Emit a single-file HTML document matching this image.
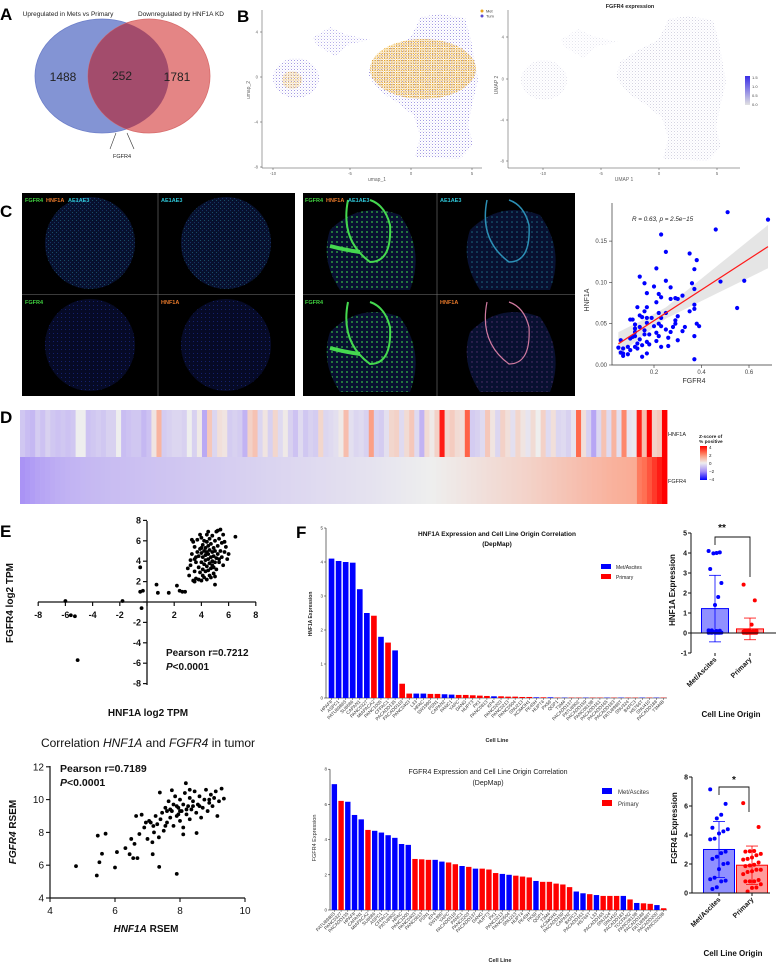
<!DOCTYPE html>
<html><head><meta charset="utf-8">
<style>
html,body{margin:0;padding:0;background:#fff;}
svg{display:block;font-family:"Liberation Sans",sans-serif;}
</style></head>
<body>
<svg id="fig" width="778" height="964" viewBox="0 0 778 964" xmlns="http://www.w3.org/2000/svg">
<defs>
 <pattern id="pPur" width="3" height="3" patternUnits="userSpaceOnUse"><rect x="0" y="0" width="1" height="1" fill="#6656d0" opacity="0.6"/><rect x="1.6" y="1.7" width="0.9" height="0.9" fill="#8a7de0" opacity="0.4"/></pattern>
 <pattern id="pOr" width="2.4" height="2.4" patternUnits="userSpaceOnUse"><rect x="0" y="0" width="1.3" height="1.3" fill="#e9a41c"/><rect x="1.4" y="1.3" width="0.8" height="0.8" fill="#f0b845" opacity="0.7"/></pattern>
 <pattern id="pGr" width="3" height="3" patternUnits="userSpaceOnUse"><rect x="0" y="0" width="1" height="1" fill="#b8b6cf" opacity="0.6"/><rect x="1.6" y="1.6" width="0.9" height="0.9" fill="#9d97d6" opacity="0.3"/></pattern>
 <pattern id="pTeal" width="4" height="4" patternUnits="userSpaceOnUse"><rect width="4" height="4" fill="#07102e"/><rect x="0" y="0" width="1" height="1" fill="#2a8a9a" opacity="0.5"/><rect x="2" y="2.2" width="0.9" height="0.9" fill="#2b5fa8" opacity="0.6"/></pattern>
 <pattern id="pDark" width="4" height="4" patternUnits="userSpaceOnUse"><rect width="4" height="4" fill="#060a26"/><rect x="1" y="1" width="1" height="1" fill="#1a2a8a" opacity="0.7"/></pattern>
 <pattern id="pGreen" width="5" height="5" patternUnits="userSpaceOnUse"><rect width="5" height="5" fill="#081030"/><circle cx="2" cy="2" r="1" fill="#3ccf4a" opacity="0.7"/></pattern>
 <pattern id="pCyan" width="5" height="5" patternUnits="userSpaceOnUse"><rect width="5" height="5" fill="#081030"/><circle cx="2" cy="2" r="0.8" fill="#2aa5b8" opacity="0.6"/></pattern>
 <pattern id="pPink" width="5" height="5" patternUnits="userSpaceOnUse"><rect width="5" height="5" fill="#081030"/><circle cx="2" cy="2" r="0.7" fill="#8a4a9a" opacity="0.6"/></pattern>
 <clipPath id="clipBlue"><ellipse cx="102" cy="76" rx="67" ry="57"/></clipPath>
 <linearGradient id="zgrad" x1="0" y1="1" x2="0" y2="0">
  <stop offset="0" stop-color="#0000ff"/><stop offset="0.25" stop-color="#a48cf6"/><stop offset="0.5" stop-color="#eeeeee"/><stop offset="0.69" stop-color="#fba58c"/><stop offset="0.81" stop-color="#ff6a4d"/><stop offset="1" stop-color="#ff0000"/>
 </linearGradient>
 <linearGradient id="fgrad" x1="0" y1="1" x2="0" y2="0"><stop offset="0" stop-color="#e2e2e2"/><stop offset="1" stop-color="#3a2ee6"/></linearGradient>
</defs>

<!-- Panel A -->
<g>
 <text x="0" y="20" font-size="17" font-weight="bold">A</text>
 <text x="68" y="16" font-size="6.5" text-anchor="middle" fill="#222">Upregulated in Mets vs Primary</text>
 <text x="181" y="16" font-size="6.5" text-anchor="middle" fill="#222">Downregulated by HNF1A KD</text>
 <ellipse cx="102" cy="76" rx="67" ry="57" fill="#8394d4" stroke="#6d7fc9" stroke-width="0.8"/>
 <ellipse cx="149" cy="76" rx="61" ry="57" fill="#e48585" stroke="#d86c6c" stroke-width="0.8"/>
 <ellipse cx="149" cy="76" rx="61" ry="57" fill="#a34c6c" clip-path="url(#clipBlue)"/>
 <text x="63" y="81" font-size="12" text-anchor="middle" fill="#222">1488</text>
 <text x="122" y="80" font-size="12" text-anchor="middle" fill="#222">252</text>
 <text x="177" y="81" font-size="12" text-anchor="middle" fill="#222">1781</text>
 <line x1="116" y1="133" x2="110" y2="149" stroke="#333" stroke-width="0.6"/>
 <line x1="127" y1="133" x2="134" y2="149" stroke="#333" stroke-width="0.6"/>
 <text x="122" y="158" font-size="5.5" text-anchor="middle" fill="#222">FGFR4</text>
</g>

<!-- Panel B -->
<g>
 <text x="237" y="22" font-size="17" font-weight="bold">B</text>
 <g id="umapL">
  <path d="M420,17 L440,14 L465,18 L471,40 L478,80 L472,105 L468,125 L473,145 L460,159 L440,158 L415,157 L420,136 L414,116 L398,103 L381,92 L368,76 L372,60 L390,48 L410,38 L417,25 Z" fill="url(#pPur)"/>
  <ellipse cx="423" cy="69" rx="53" ry="30" fill="url(#pOr)"/>
  <ellipse cx="296" cy="78" rx="23" ry="20" fill="url(#pPur)"/>
  <ellipse cx="292" cy="80" rx="10" ry="9" fill="url(#pOr)" opacity="0.6"/>
  <path d="M312,38 L330,27 L345,34 L370,40 L350,44 L335,56 L318,46 Z" fill="url(#pPur)" opacity="0.8"/>
  <circle cx="482" cy="11" r="1.5" fill="#e9a41c"/><text x="486" y="12.5" font-size="4" fill="#333">Met</text>
  <circle cx="482" cy="16" r="1.5" fill="#5a4ad0"/><text x="486" y="17.5" font-size="4" fill="#333">Tum</text>
 </g>
 <g id="umapR">
  <text x="630" y="8" font-size="5.5" font-weight="bold" text-anchor="middle" fill="#222">FGFR4 expression</text>
  <g transform="translate(248,2)">
   <path d="M420,17 L440,14 L465,18 L471,40 L478,80 L472,105 L468,125 L473,145 L460,159 L440,158 L415,157 L420,136 L414,116 L398,103 L381,92 L368,76 L372,60 L390,48 L410,38 L417,25 Z" fill="url(#pGr)"/>
   <ellipse cx="296" cy="78" rx="23" ry="20" fill="url(#pGr)" opacity="0.8"/>
   <path d="M312,38 L330,27 L345,34 L370,40 L350,44 L335,56 L318,46 Z" fill="url(#pGr)" opacity="0.6"/>
  </g>
  <rect x="745" y="76" width="5" height="29" fill="url(#fgrad)"/>
  <text x="752" y="79" font-size="4" fill="#444">1.5</text><text x="752" y="88" font-size="4" fill="#444">1.0</text>
  <text x="752" y="97" font-size="4" fill="#444">0.5</text><text x="752" y="106" font-size="4" fill="#444">0.0</text>
 </g>
</g>

<!-- Panel C -->
<g>
 <text x="0" y="217" font-size="17" font-weight="bold">C</text>
 <rect x="22" y="193" width="273" height="203" fill="#000"/>
 <ellipse cx="90" cy="243" rx="45" ry="46" fill="url(#pTeal)"/>
 <ellipse cx="226" cy="243" rx="45" ry="46" fill="url(#pTeal)"/>
 <ellipse cx="90" cy="345" rx="45" ry="46" fill="url(#pDark)"/>
 <ellipse cx="226" cy="345" rx="45" ry="46" fill="url(#pDark)"/>
 <line x1="158" y1="193" x2="158" y2="396" stroke="#777" stroke-width="0.6"/>
 <line x1="22" y1="294.5" x2="295" y2="294.5" stroke="#777" stroke-width="0.6"/>
 <rect x="303" y="193" width="272" height="203" fill="#000"/>
 <path d="M330,230 Q360,200 400,215 Q425,250 410,290 L340,290 Q320,260 330,230 Z" fill="url(#pGreen)"/>
 <path d="M470,230 Q500,200 540,215 Q565,250 550,290 L480,290 Q460,260 470,230 Z" fill="url(#pCyan)"/>
 <path d="M330,332 Q360,302 400,317 Q425,352 410,392 L340,392 Q320,362 330,332 Z" fill="url(#pGreen)"/>
 <path d="M470,332 Q500,302 540,317 Q565,352 550,392 L480,392 Q460,362 470,332 Z" fill="url(#pPink)"/>
 <path d="M348,200 Q340,240 370,262 Q392,262 390,225 Q385,205 370,200" fill="none" stroke="#45d84f" stroke-width="2"/>
 <path d="M348,302 Q340,342 370,364 Q392,364 390,327 Q385,307 370,302" fill="none" stroke="#45d84f" stroke-width="2"/>
 <path d="M487,200 Q479,240 509,262 Q531,262 529,225 Q524,205 509,200" fill="none" stroke="#2c8fb5" stroke-width="1.5"/>
 <path d="M487,302 Q479,342 509,364 Q531,364 529,327 Q524,307 509,302" fill="none" stroke="#d07aa0" stroke-width="1.2"/>
 <path d="M330,246 Q345,250 360,252" stroke="#45d84f" stroke-width="4" fill="none"/>
 <path d="M330,348 Q345,352 360,354" stroke="#45d84f" stroke-width="4" fill="none"/>
 <line x1="437" y1="193" x2="437" y2="396" stroke="#777" stroke-width="0.6"/>
 <line x1="303" y1="294.5" x2="575" y2="294.5" stroke="#777" stroke-width="0.6"/>
 <g font-size="5.5" font-weight="bold">
  <text x="25" y="202" fill="#3ecf3e">FGFR4</text><text x="46" y="202" fill="#e8792a">HNF1A</text><text x="68" y="202" fill="#2ec4d6">AE1AE3</text>
  <text x="161" y="202" fill="#2ec4d6">AE1AE3</text>
  <text x="25" y="304" fill="#3ecf3e">FGFR4</text><text x="161" y="304" fill="#e8792a">HNF1A</text>
  <text x="305" y="202" fill="#3ecf3e">FGFR4</text><text x="326" y="202" fill="#e8792a">HNF1A</text><text x="348" y="202" fill="#2ec4d6">AE1AE3</text>
  <text x="440" y="202" fill="#2ec4d6">AE1AE3</text>
  <text x="305" y="304" fill="#3ecf3e">FGFR4</text><text x="440" y="304" fill="#e8792a">HNF1A</text>
 </g>
</g>

<g id="cScatter">
 <text x="632" y="221" font-size="6.3" font-style="italic" fill="#222">R = 0.63, <tspan>p</tspan> = 2.5e−15</text>
 <text x="589" y="300" font-size="7" fill="#333" text-anchor="middle" transform="rotate(-90 589 300)">HNF1A</text>
 <text x="694" y="383" font-size="7" fill="#333" text-anchor="middle">FGFR4</text>
</g>

<!-- Panel D -->
<g id="heat">
 <text x="0" y="423" font-size="17" font-weight="bold">D</text>
 <text x="668" y="436" font-size="5.5" fill="#222">HNF1A</text>
 <text x="668" y="483" font-size="5.5" fill="#222">FGFR4</text>
 <text x="699" y="438" font-size="4.8" font-weight="bold" fill="#222">Z-score of</text>
 <text x="699" y="443" font-size="4.8" font-weight="bold" fill="#222">% positive</text>
 <rect x="700" y="446" width="7" height="34" fill="url(#zgrad)"/>
 <g font-size="4.5" fill="#222"><text x="709" y="449">4</text><text x="709" y="457">2</text><text x="709" y="465">0</text><text x="709" y="473">−2</text><text x="709" y="481">−4</text></g>
</g>

<!-- Panel E -->
<g id="eTop">
 <text x="0" y="537" font-size="17" font-weight="bold">E</text>
 <text x="13" y="603" font-size="10" font-weight="bold" text-anchor="middle" transform="rotate(-90 13 603)" fill="#111">FGFR4 log2 TPM</text>
 <text x="148" y="716" font-size="10" font-weight="bold" text-anchor="middle" fill="#111">HNF1A log2 TPM</text>
 <text x="166" y="656" font-size="10" font-weight="bold" fill="#111">Pearson r=0.7212</text>
 <text x="166" y="670" font-size="10" font-weight="bold" fill="#111"><tspan font-style="italic">P</tspan>&lt;0.0001</text>
</g>
<g id="eBot">
 <text x="148" y="747" font-size="12" text-anchor="middle" fill="#111">Correlation <tspan font-style="italic">HNF1A</tspan> and <tspan font-style="italic">FGFR4</tspan> in tumor</text>
 <text x="60" y="772" font-size="10.5" font-weight="bold" fill="#111">Pearson r=0.7189</text>
 <text x="60" y="786" font-size="10.5" font-weight="bold" fill="#111"><tspan font-style="italic">P</tspan>&lt;0.0001</text>
 <text x="16" y="832" font-size="10" font-weight="bold" text-anchor="middle" transform="rotate(-90 16 832)" fill="#111"><tspan font-style="italic">FGFR4</tspan> RSEM</text>
 <text x="146" y="932" font-size="10" font-weight="bold" text-anchor="middle" fill="#111"><tspan font-style="italic">HNF1A</tspan>  RSEM</text>
</g>

<!-- Panel F -->
<g id="fTop">
 <text x="296" y="538" font-size="17" font-weight="bold">F</text>
 <text x="497" y="536" font-size="6.5" font-weight="bold" text-anchor="middle" fill="#111">HNF1A Expression and Cell Line Origin Correlation</text>
 <text x="497" y="546" font-size="6.5" font-weight="bold" text-anchor="middle" fill="#111">(DepMap)</text>
 <rect x="601" y="564" width="10" height="5" fill="#0000ff"/><text x="616" y="569" font-size="5" fill="#222">Met/Ascites</text>
 <rect x="601" y="574" width="10" height="5" fill="#ff0000"/><text x="616" y="579" font-size="5" fill="#222">Primary</text>
 <text x="312" y="614" font-size="5" font-weight="bold" text-anchor="middle" transform="rotate(-90 312 614)" fill="#222">HNF1A Expression</text>
 <text x="497" y="742" font-size="5.5" font-weight="bold" text-anchor="middle" fill="#222">Cell Line</text>
</g>
<g id="fBot">
 <text x="488" y="774" font-size="7" text-anchor="middle" fill="#222">FGFR4 Expression and Cell Line Origin Correlation</text>
 <text x="488" y="785" font-size="7" text-anchor="middle" fill="#222">(DepMap)</text>
 <rect x="602" y="788" width="10" height="6" fill="#0000ff"/><text x="618" y="794" font-size="6" fill="#333">Met/Ascites</text>
 <rect x="602" y="800" width="10" height="6" fill="#ff0000"/><text x="618" y="806" font-size="6" fill="#333">Primary</text>
 <text x="316" y="838" font-size="5.5" text-anchor="middle" transform="rotate(-90 316 838)" fill="#333">FGFR4 Expression</text>
 <text x="500" y="962" font-size="5.5" font-weight="bold" text-anchor="middle" fill="#222">Cell Line</text>
</g>
<g id="fSmallTop">
 <text x="675" y="590" font-size="8" font-weight="bold" text-anchor="middle" transform="rotate(-90 675 590)" fill="#111">HNF1A Expression</text>
 <text x="731" y="717" font-size="8" font-weight="bold" text-anchor="middle" fill="#111">Cell Line Origin</text>
 <text x="722" y="531" font-size="10" font-weight="bold" text-anchor="middle" fill="#111">**</text>
 <path d="M715,545 L715,537 L750,537 L750,577" fill="none" stroke="#111" stroke-width="0.9"/>
</g>
<g id="fSmallBot">
 <text x="677" y="828" font-size="8" font-weight="bold" text-anchor="middle" transform="rotate(-90 677 828)" fill="#111">FGFR4 Expression</text>
 <text x="733" y="956" font-size="8" font-weight="bold" text-anchor="middle" fill="#111">Cell Line Origin</text>
 <text x="734" y="783" font-size="10" font-weight="bold" text-anchor="middle" fill="#111">*</text>
 <path d="M719,795 L719,787 L749,787 L749,812" fill="none" stroke="#111" stroke-width="0.9"/>
</g>
</svg>

<script>
// ---------- DATA ----------
const cFgfr4 = [0.51,0.68,0.46,0.23,0.25,0.35,0.38,0.37,0.21,0.14,0.25,0.48,0.58,0.36,0.16,0.20,0.27,0.37,0.17,0.32,0.22,0.23,0.29,0.27,0.30,0.21,0.13,0.17,0.37,0.55,0.16,0.22,0.25,0.35,0.37,0.14,0.15,0.17,0.19,0.10,0.11,0.23,0.30,0.29,0.38,0.39,0.33,0.29,0.22,0.17,0.12,0.14,0.20,0.23,0.25,0.12,0.16,0.28,0.32,0.27,0.21,0.16,0.18,0.12,0.22,0.26,0.37,0.30,0.10,0.06,0.14,0.17,0.21,0.13,0.15,0.18,0.12,0.23,0.26,0.09,0.05,0.07,0.10,0.13,0.07,0.17,0.06,0.09,0.07,0.15,0.37,0.12,0.11];
const cHnf1a = [0.185,0.176,0.164,0.158,0.137,0.135,0.127,0.116,0.117,0.107,0.102,0.101,0.102,0.099,0.099,0.095,0.094,0.092,0.087,0.084,0.086,0.082,0.081,0.080,0.080,0.076,0.070,0.070,0.068,0.069,0.065,0.063,0.063,0.065,0.073,0.060,0.058,0.057,0.057,0.055,0.055,0.057,0.059,0.054,0.050,0.047,0.046,0.050,0.050,0.051,0.049,0.046,0.047,0.047,0.043,0.044,0.042,0.046,0.041,0.040,0.039,0.037,0.037,0.035,0.035,0.033,0.035,0.030,0.032,0.030,0.031,0.028,0.029,0.026,0.024,0.025,0.022,0.022,0.023,0.022,0.021,0.020,0.018,0.020,0.014,0.014,0.015,0.013,0.011,0.010,0.007,0.040,0.034];
const cXTicks = [0.2,0.4,0.6];
const cYTicks = [0.00,0.05,0.10,0.15];

const hnf1aZ = [-0.8,-1.0,-1.1,-0.7,-0.9,-0.6,-0.8,-0.9,-0.8,-0.9,-0.8,0.0,0.0,-0.9,-0.8,-0.7,-0.8,-0.6,-0.6,0.0,-1.0,-0.9,-0.8,-0.8,-1.1,-0.9,0.2,1.2,-0.7,-0.6,-0.5,-0.5,-0.6,0.0,-0.6,0.1,-1.4,0.8,-0.5,0.3,0.2,-0.7,-0.6,-0.7,-1.2,0.6,0.9,-0.5,0.2,-0.6,0.5,-0.4,0.1,-0.6,-0.9,-0.4,-0.8,-0.6,-0.7,0.5,-0.5,-0.4,-0.3,0.1,1.0,-0.3,-0.5,-0.4,-0.6,1.6,-0.6,-0.7,-0.3,0.5,0.6,-0.4,0.4,0.8,-0.4,-1.2,0.4,0.1,0.6,3.6,0.5,0.7,0.4,0.3,2.6,-0.7,-0.6,-0.4,0.8,0.2,-0.5,0.6,0.3,-0.3,0.5,0.2,-0.2,0.4,0.0,0.6,-0.4,0.3,-0.5,-0.4,-0.6,-0.2,2.5,0.3,-0.6,-1.5,-0.5,0.9,-0.4,1.2,-0.3,2.0,-0.2,-0.1,3.5,1.0,4.0,0.6,0.8,4.0];
const fgfr4Z = [-1.85,-1.75,-1.65,-1.55,-1.5,-1.42,-1.36,-1.3,-1.26,-1.22,-1.19,-1.16,-1.13,-1.11,-1.09,-1.07,-1.05,-1.03,-1.01,-0.99,-0.98,-0.96,-0.95,-0.93,-0.92,-0.9,-0.89,-0.87,-0.86,-0.84,-0.83,-0.81,-0.8,-0.78,-0.77,-0.75,-0.74,-0.72,-0.71,-0.69,-0.68,-0.66,-0.65,-0.63,-0.62,-0.6,-0.59,-0.57,-0.56,-0.54,-0.53,-0.51,-0.5,-0.48,-0.47,-0.45,-0.44,-0.42,-0.41,-0.39,-0.38,-0.36,-0.35,-0.33,-0.32,-0.3,-0.29,-0.27,-0.26,-0.24,-0.23,-0.21,-0.19,-0.17,-0.15,-0.13,-0.11,-0.09,-0.07,-0.05,-0.03,-0.01,0.01,0.04,0.07,0.1,0.13,0.16,0.19,0.22,0.25,0.28,0.31,0.34,0.37,0.4,0.43,0.46,0.49,0.52,0.55,0.58,0.62,0.66,0.7,0.74,0.78,0.82,0.86,0.9,0.94,0.98,1.02,1.06,1.1,1.14,1.18,1.22,1.25,1.28,1.3,1.33,1.36,2.2,2.4,2.8,3.2,3.6,4.0];

const e1x = [-6,-5.6,-5.3,-5.1,-1.8,-0.4,-0.5,-0.5,-0.3,0.7,0.8,1.6,2.2,2.4,2.6,2.8,5.0,6.5,3.0,3.1,3.2,3.3,3.4,3.4,3.5,3.5,3.5,3.6,3.6,3.7,3.7,3.8,3.8,3.8,3.9,3.9,4.0,4.0,4.0,4.0,4.1,4.1,4.1,4.2,4.2,4.2,4.2,4.3,4.3,4.3,4.3,4.4,4.4,4.4,4.4,4.4,4.5,4.5,4.5,4.5,4.6,4.6,4.6,4.6,4.7,4.7,4.7,4.7,4.8,4.8,4.8,4.8,4.9,4.9,4.9,5.0,5.0,5.0,5.1,5.1,5.1,5.2,5.2,5.3,5.3,5.4,5.4,5.5,5.5,5.6,5.6,5.7,5.8,5.9,6.0,3.3,3.9,4.5,5.2,5.0,4.1,3.6,4.9,5.3,4.0,3.2,5.7,3.5];
const e1y = [0.1,-1.3,-1.4,-5.7,0.1,-0.6,3.4,1.0,1.1,1.7,0.9,0.9,1.6,1.1,1.0,1.0,1.7,6.4,3.3,2.6,3.6,4.7,2.1,5.9,3.0,4.2,5.4,2.3,3.9,4.9,6.1,2.2,3.4,4.5,5.2,2.9,3.9,4.8,6.3,2.1,3.2,4.4,5.6,2.4,3.7,5.0,6.0,4.1,4.6,5.3,3.0,2.2,3.5,4.9,5.9,6.6,4.2,3.1,5.5,4.7,2.6,3.8,5.1,6.2,4.4,3.3,5.7,2.4,4.0,4.9,6.5,3.6,5.3,2.8,4.5,3.9,6.0,5.0,4.3,3.2,6.9,5.5,4.7,3.9,6.2,7.1,5.0,4.4,5.8,3.6,6.6,4.9,5.4,4.2,4.7,6.1,6.6,6.9,7.0,2.5,2.6,4.4,3.4,4.2,5.3,4.1,5.9,2.0];
const e1Ticks = [-8,-6,-4,-2,2,4,6,8];

const e2x = [4.8,5.44,5.47,5.52,5.6,5.71,6.0,6.06,6.32,6.45,6.56,6.69,7.16,7.36,7.9,7.18,6.65,6.82,7.38,7.75,8.18,9.28,9.35,9.15,8.51,8.1,6.9,7.0,7.1,7.2,7.3,7.35,7.4,7.45,7.5,7.55,7.6,7.65,7.7,7.75,7.8,7.8,7.85,7.9,7.95,8.0,8.0,8.05,8.1,8.1,8.15,8.2,8.25,8.3,8.3,8.35,8.4,8.45,8.5,8.55,8.6,8.65,8.7,8.75,8.8,8.85,8.9,8.95,9.0,9.05,9.1,9.2,7.6,7.9,8.0,7.7,8.2,7.95,8.4,6.75,6.95,7.25,7.15,6.6,6.5,7.05,8.6,8.3,8.9,7.55];
const e2y = [5.94,5.37,7.8,6.18,6.7,7.92,5.86,6.8,7.04,6.67,6.43,6.43,6.67,5.9,5.47,8.39,9.0,9.08,10.43,10.57,11.0,10.67,10.06,9.0,7.96,7.88,8.3,7.6,8.6,8.0,8.5,7.7,8.8,9.2,8.1,9.5,8.6,9.9,8.9,9.3,8.4,9.7,10.2,9.0,9.5,8.7,10.0,9.3,9.7,8.3,10.4,9.1,9.6,10.1,8.8,9.4,9.9,10.5,9.2,9.7,10.2,8.9,9.5,10.0,10.6,9.3,9.8,10.3,9.6,10.1,10.5,9.9,9.3,9.6,9.3,9.4,9.4,9.1,9.6,7.9,8.6,9.0,7.4,7.3,7.6,8.7,9.6,10.6,10.0,8.4];
const e2XTicks = [4,6,8,10];
const e2YTicks = [4,6,8,10,12];

const hnfNames = ["HPAFII","ASPC1","PATU8988S","SU8686","CAPAN1","PANC0327","MIAPACA2","PANC1005","CFPAC1","PACADD135","PACADD119","PANC0403","L33","HPAC","SW1990","PSN1","CAPAN2","PANC1","YAPC","DANG","HUPT3","PK1","PANC0813","KP4","PANC0203","PANC0213","PANC0504","SNU213","KCIMOH1","PK45H","HUPT4","PK59","QGP1","T3M4","PACADD137","PATU8902","PACADD159","PANC0813B","PACADD161","PACADD165","PACADD183","PATU8988T","SNU324","BXPC3","HS766T","SNU410","PACADD188","T3M4B"];
const hnfOrigin = ["M","M","M","M","M","M","P","M","P","M","P","P","M","M","P","P","M","M","P","P","P","P","P","M","P","P","P","P","P","M","P","M","P","M","P","P","M","P","P","M","P","M","P","P","M","P","M","P"];
const hnfValues = [4.1,4.03,4.0,3.98,3.2,2.5,2.42,1.8,1.63,1.4,0.42,0.13,0.13,0.13,0.12,0.12,0.11,0.1,0.09,0.09,0.08,0.07,0.06,0.05,0.05,0.04,0.04,0.03,0.03,0.02,0.02,0.02,0.01,0.01,0.01,0.01,0.01,0.01,0.01,0.01,0.01,0.01,0.01,0.01,0.01,0.01,0.01,0.01];
const hnfTicks = [0,1,2,3,4,5];

const fgNames = ["PATU8988S","PANC0327","PACADD135","HPAFII","CAPAN1","MIAPACA2","SU8686","ASPC1","CFPAC1","PATU8902","HPAC","PANC1005","PANC0403","PANC0813","PSN1","KP4","SW1990","YAPC","PACADD119","PANC1","PANC0203","PACADD137","DANG","HUPT3","PK1","PANC0213","PANC0504","SNU213","HUPT4","PK45H","PK59","QGP1","T3M4","KCIMOH1","PACADD159","CAPAN2","BXPC3","PACADD161","HS766T","L33","PACADD165","SNU324","SNU410","PACADD183","TCCPAN2","PANC0813B","PACADD188","PATU8988T","PACADD200","PANC0203B"];
const fgOrigin = ["M","P","M","M","M","P","M","M","M","M","M","M","P","P","P","M","M","P","P","M","P","M","P","P","P","M","M","P","P","P","M","P","P","P","P","P","M","M","P","M","P","P","P","M","P","M","P","P","M","P"];
const fgValues = [7.15,6.2,6.15,5.4,5.15,4.55,4.5,4.4,4.25,4.1,3.75,3.7,2.9,2.88,2.85,2.85,2.75,2.7,2.6,2.5,2.45,2.35,2.35,2.3,2.1,2.05,2.0,1.95,1.9,1.85,1.65,1.6,1.6,1.5,1.45,1.3,1.05,0.95,0.9,0.85,0.8,0.8,0.8,0.8,0.6,0.4,0.38,0.35,0.28,0.1];
const fgTicks = [0,2,4,6,8];
const smallHnfTicks = [-1,0,1,2,3,4,5];
const smallFgTicks = [0,2,4,6,8];
const originCats = ["Met/Ascites","Primary"];

// ---------- HELPERS ----------
const NS = "http://www.w3.org/2000/svg";
function mk(tag, attrs, parent){
  const e = document.createElementNS(NS, tag);
  for (const k in attrs) e.setAttribute(k, attrs[k]);
  parent.appendChild(e);
  return e;
}
function txt(parent, x, y, s, size, anchor, extra){
  const t = mk("text", Object.assign({x:x, y:y, "font-size":size, "text-anchor":anchor||"start", fill:"#222"}, extra||{}), parent);
  t.textContent = s;
  return t;
}
function hex(h){return [parseInt(h.substr(1,2),16),parseInt(h.substr(3,2),16),parseInt(h.substr(5,2),16)];}
const zStops = [[-4,"#0000ff"],[-2,"#a48cf6"],[0,"#eeeeee"],[1.5,"#fba58c"],[2.5,"#ff6a4d"],[4,"#ff0000"]];
function zColor(v){
  v = Math.max(-4, Math.min(4, v));
  for (let i=0;i<zStops.length-1;i++){
    const a=zStops[i], b=zStops[i+1];
    if (v<=b[0]){
      const t=(v-a[0])/(b[0]-a[0]); const ca=hex(a[1]), cb=hex(b[1]);
      return "rgb("+ca.map((c,j)=>Math.round(c+(cb[j]-c)*t)).join(",")+")";
    }
  }
  return "#ff0000";
}

// ---------- UMAP axes ----------
(function(){
  const gl = document.getElementById("umapL");
  mk("polyline",{points:"262,10 262,168 482,168",fill:"none",stroke:"#444","stroke-width":0.5},gl);
  [[-10,273],[-5,350],[0,411],[5,472]].forEach(p=>{ mk("line",{x1:p[1],y1:168,x2:p[1],y2:170,stroke:"#444","stroke-width":0.5},gl); txt(gl,p[1],175,String(p[0]),4.2,"middle",{fill:"#666"}); });
  [[4,32],[0,77],[-4,122],[-8,167]].forEach(p=>{ mk("line",{x1:260,y1:p[1],x2:262,y2:p[1],stroke:"#444","stroke-width":0.5},gl); txt(gl,258,p[1]+1.5,String(p[0]),4.2,"end",{fill:"#666"}); });
  const a1 = txt(gl,377,181,"umap_1",5,"middle",{fill:"#666"});
  
  
  const a2 = txt(gl,250,90,"umap_2",5,"middle",{fill:"#666",transform:"rotate(-90 250 90)"});
  
  
  const gr = document.getElementById("umapR");
  mk("polyline",{points:"508,10 508,168 740,168",fill:"none",stroke:"#444","stroke-width":0.5},gr);
  [[-10,543],[-5,601],[0,659],[5,717]].forEach(p=>{ mk("line",{x1:p[1],y1:168,x2:p[1],y2:170,stroke:"#444","stroke-width":0.5},gr); txt(gr,p[1],175,String(p[0]),4.2,"middle",{fill:"#666"}); });
  [[4,37],[0,79],[-4,120],[-8,161]].forEach(p=>{ mk("line",{x1:506,y1:p[1],x2:508,y2:p[1],stroke:"#444","stroke-width":0.5},gr); txt(gr,504,p[1]+1.5,String(p[0]),4.2,"end",{fill:"#666"}); });
  txt(gr,624,181,"UMAP 1",5,"middle",{fill:"#666"});
  txt(gr,498,85,"UMAP 2",5,"middle",{fill:"#666",transform:"rotate(-90 498 85)"});
})();

// ---------- C scatter ----------
(function(){
  const g = document.getElementById("cScatter");
  const cx = v => 606.5 + v*237.5;
  const cy = v => 365 - v*826;
  const n = cFgfr4.length;
  const mx = cFgfr4.reduce((a,b)=>a+b,0)/n, my = cHnf1a.reduce((a,b)=>a+b,0)/n;
  let sxy=0,sxx=0; for(let i=0;i<n;i++){sxy+=(cFgfr4[i]-mx)*(cHnf1a[i]-my); sxx+=(cFgfr4[i]-mx)**2;}
  const slope = sxy/sxx, icp = my - slope*mx;
  const xs = [0.05,0.15,0.25,0.35,0.45,0.55,0.68];
  const up = xs.map(x=>[cx(x), cy(icp+slope*x + 0.006 + 0.045*Math.abs(x-mx))]);
  const lo = xs.slice().reverse().map(x=>[cx(x), cy(icp+slope*x - 0.006 - 0.045*Math.abs(x-mx))]);
  const band = mk("polygon",{points:up.concat(lo).map(p=>p.join(",")).join(" "),fill:"#dcdcdc",opacity:0.75},g);
  
  
  for (let i=0;i<n;i++){
    const d = mk("circle",{cx:cx(cFgfr4[i]),cy:cy(cHnf1a[i]),r:2.1,fill:"#0000ff"},g);
    
    
  }
  const rl = mk("line",{x1:cx(0.05),y1:cy(icp+slope*0.05),x2:cx(0.68),y2:cy(icp+slope*0.68),stroke:"#ff1a1a","stroke-width":1.2},g);
  
  
  mk("polyline",{points:"612,203 612,365 772,365",fill:"none",stroke:"#333","stroke-width":0.7},g);
  cYTicks.forEach(v=>{ mk("line",{x1:609,y1:cy(v),x2:612,y2:cy(v),stroke:"#333","stroke-width":0.6},g); txt(g,607,cy(v)+2,v.toFixed(2),6,"end",{fill:"#444"}); });
  cXTicks.forEach(v=>{ mk("line",{x1:cx(v),y1:365,x2:cx(v),y2:368,stroke:"#333","stroke-width":0.6},g); txt(g,cx(v),374,String(v),6,"middle",{fill:"#444"}); });
})();

// ---------- D heatmap ----------
(function(){
  const g = document.getElementById("heat");
  const x0 = 20, w = 647/hnf1aZ.length;
  hnf1aZ.forEach((v,i)=>{
    const r = mk("rect",{x:x0+i*w,y:410,width:w+0.4,height:47,fill:zColor(v)},g);
    
    
  });
  fgfr4Z.forEach((v,i)=>{
    const r = mk("rect",{x:x0+i*(647/fgfr4Z.length),y:457,width:647/fgfr4Z.length+0.4,height:47,fill:zColor(v)},g);
    
    
  });
})();

// ---------- E top ----------
(function(){
  const g = document.getElementById("eTop");
  const ex = v => 147 + v*13.6, ey = v => 602 - v*10.2;
  mk("line",{x1:38,y1:602,x2:256,y2:602,stroke:"#111","stroke-width":1.3},g);
  mk("line",{x1:147,y1:521,x2:147,y2:685,stroke:"#111","stroke-width":1.3},g);
  [-8,-6,-4,-2,0,2,4,6,8].forEach(v=>{ mk("line",{x1:ex(v),y1:602,x2:ex(v),y2:606,stroke:"#111","stroke-width":1.2},g); mk("line",{x1:143,y1:ey(v),x2:147,y2:ey(v),stroke:"#111","stroke-width":1.2},g); });
  e1Ticks.forEach(v=>{ txt(g,ex(v),618,String(v),9,"middle",{"font-weight":"bold",fill:"#111"}); txt(g,141,ey(v)+3,String(v),9,"end",{"font-weight":"bold",fill:"#111"}); });
  for (let i=0;i<e1x.length;i++){
    const d = mk("circle",{cx:ex(e1x[i]),cy:ey(e1y[i]),r:1.9,fill:"#000"},g);
    
    
  }
})();

// ---------- E bottom ----------
(function(){
  const g = document.getElementById("eBot");
  const bx = v => 50 + (v-4)*32.5, by = v => 898 - (v-4)*16.4;
  mk("line",{x1:50,y1:766,x2:50,y2:898,stroke:"#111","stroke-width":1.2},g);
  mk("line",{x1:50,y1:898,x2:245,y2:898,stroke:"#111","stroke-width":1.2},g);
  e2YTicks.forEach(v=>{ mk("line",{x1:46,y1:by(v),x2:50,y2:by(v),stroke:"#111","stroke-width":1.1},g); txt(g,44,by(v)+3.5,String(v),10,"end",{fill:"#111"}); });
  e2XTicks.forEach(v=>{ mk("line",{x1:bx(v),y1:898,x2:bx(v),y2:902,stroke:"#111","stroke-width":1.1},g); txt(g,bx(v),914,String(v),10,"middle",{fill:"#111"}); });
  for (let i=0;i<e2x.length;i++){
    const d = mk("circle",{cx:bx(e2x[i]),cy:by(e2y[i]),r:1.9,fill:"#000"},g);
    
    
  }
})();

// ---------- F bar charts ----------
function barChart(g, values, origins, names, ticks, opt){
  const step = (opt.x1-opt.x0)/values.length, bw = step*0.8;
  const yv = v => opt.zero - v*opt.ppu;
  mk("line",{x1:opt.axisX,y1:yv(ticks[ticks.length-1]),x2:opt.axisX,y2:opt.zero,stroke:"#111","stroke-width":0.6},g);
  mk("line",{x1:opt.axisX,y1:opt.zero,x2:opt.x1,y2:opt.zero,stroke:"#111","stroke-width":0.6},g);
  ticks.forEach(v=>{ mk("line",{x1:opt.axisX-2,y1:yv(v),x2:opt.axisX,y2:yv(v),stroke:"#111","stroke-width":0.5},g); txt(g,opt.axisX-3,yv(v)+1.5,String(v),4.5,"end",{fill:"#333"}); });
  values.forEach((v,i)=>{
    const x = opt.x0 + i*step + (step-bw)/2;
    const b = mk("rect",{x:x,y:yv(v),width:bw,height:Math.max(0.3,v*opt.ppu),fill:origins[i]==="M"?"#0000ff":"#ff0000"},g);
    
    
    const cxp = x + bw/2;
    mk("line",{x1:cxp,y1:opt.zero,x2:cxp,y2:opt.zero+2,stroke:"#111","stroke-width":0.4},g);
    const t = txt(g,cxp+1,opt.zero+4,names[i],4.6,"end",{fill:"#333",transform:"rotate(-45 "+(cxp+1)+" "+(opt.zero+4)+")"});
    
    
  });
}
barChart(document.getElementById("fTop"), hnfValues, hnfOrigin, hnfNames, hnfTicks, {x0:328,x1:667,axisX:326,zero:698,ppu:34,prefix:"hnf1a"});
barChart(document.getElementById("fBot"), fgValues, fgOrigin, fgNames, fgTicks, {x0:331,x1:667,axisX:330,zero:910,ppu:17.6,prefix:"fgfr4"});

// ---------- F small origin plots ----------
function originPlot(g, values, origins, ticks, opt){
  const yv = v => opt.zero - v*opt.ppu;
  const groups = [[],[]];
  values.forEach((v,i)=>groups[origins[i]==="M"?0:1].push(v));
  const cols = [["rgba(70,70,255,0.6)","#0000ff"],["rgba(255,90,90,0.6)","#ff0000"]];
  groups.forEach((arr,k)=>{
    const m = arr.reduce((a,b)=>a+b,0)/arr.length;
    const sd = Math.sqrt(arr.reduce((a,b)=>a+(b-m)**2,0)/(arr.length-1));
    const c = opt.centers[k];
    const bar = mk("rect",{x:c-opt.bw/2,y:Math.min(yv(m),opt.zero),width:opt.bw,height:Math.abs(m*opt.ppu),fill:cols[k][0],stroke:cols[k][1],"stroke-width":1},g);
    
    
    mk("line",{x1:c,y1:yv(m+sd),x2:c,y2:yv(m-sd),stroke:cols[k][1],"stroke-width":0.8},g);
    mk("line",{x1:c-6,y1:yv(m+sd),x2:c+6,y2:yv(m+sd),stroke:cols[k][1],"stroke-width":0.8},g);
    mk("line",{x1:c-6,y1:yv(m-sd),x2:c+6,y2:yv(m-sd),stroke:cols[k][1],"stroke-width":0.8},g);
    arr.forEach((v,j)=>{
      const jit = ((j*7)%9 - 4)*opt.jit;
      const d = mk("circle",{cx:c+jit,cy:yv(v),r:2,fill:cols[k][1]},g);
      
      
    });
    const t = txt(g,c+2,opt.labelY,originCats[k],7,"end",{"font-weight":"bold",fill:"#111",transform:"rotate(-45 "+(c+2)+" "+opt.labelY+")"});
    
    
  });
  mk("line",{x1:opt.axisX,y1:yv(ticks[ticks.length-1]),x2:opt.axisX,y2:yv(ticks[0]),stroke:"#111","stroke-width":1},g);
  mk("line",{x1:opt.axisX,y1:opt.zero,x2:opt.xEnd,y2:opt.zero,stroke:"#111","stroke-width":1},g);
  ticks.forEach(v=>{ mk("line",{x1:opt.axisX-3,y1:yv(v),x2:opt.axisX,y2:yv(v),stroke:"#111","stroke-width":1},g); txt(g,opt.axisX-4,yv(v)+2.5,String(v),7,"end",{"font-weight":"bold",fill:"#111"}); });
  opt.centers.forEach(c=>mk("line",{x1:c,y1:opt.tickY,x2:c,y2:opt.tickY+3,stroke:"#111","stroke-width":1},g));
}
originPlot(document.getElementById("fSmallTop"), hnfValues, hnfOrigin, smallHnfTicks, {zero:633,ppu:20,centers:[715,750],bw:27,axisX:691,xEnd:776,labelY:660,tickY:653,jit:1.6,prefix:"hnf1a-origin"});
originPlot(document.getElementById("fSmallBot"), fgValues, fgOrigin, smallFgTicks, {zero:893,ppu:14.5,centers:[719,752],bw:31,axisX:692,xEnd:770,labelY:900,tickY:893,jit:2.2,prefix:"fgfr4-origin"});
</script>
</body></html>
